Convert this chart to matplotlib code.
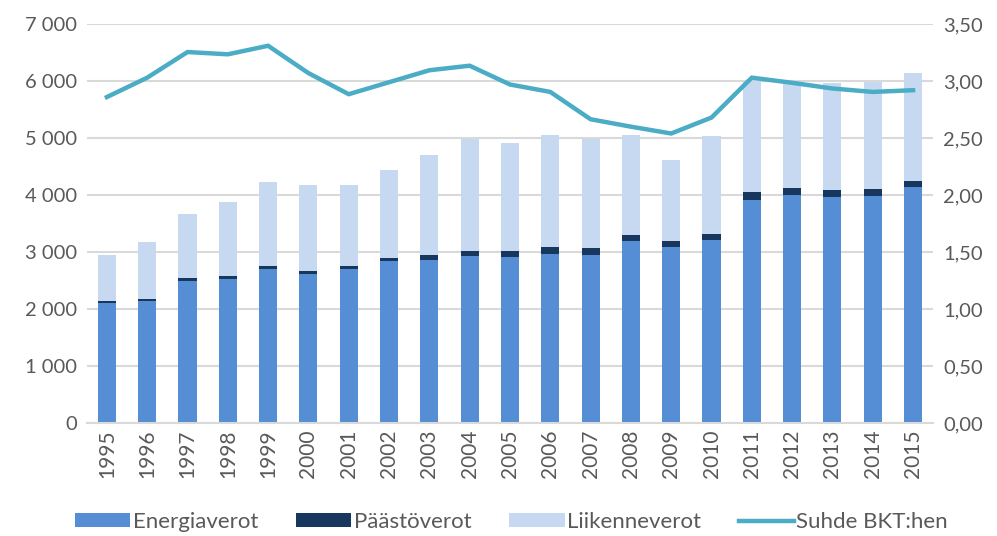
import matplotlib

matplotlib.use("Agg")
import matplotlib.pyplot as plt
import numpy as np
from matplotlib.ticker import FuncFormatter

years = [str(y) for y in range(1995, 2016)]
energiaverot = [2110, 2135, 2495, 2525, 2695, 2615, 2700, 2840, 2860, 2935, 2910,
                2965, 2940, 3190, 3090, 3205, 3910, 3995, 3965, 3980, 4145]
paastoverot = [35, 40, 45, 55, 60, 60, 60, 60, 80, 80, 105,
               120, 125, 105, 95, 110, 140, 130, 120, 120, 105]
kokonais = [2950, 3170, 3660, 3883, 4222, 4181, 4175, 4440, 4702, 4977, 4912,
            5058, 4988, 5058, 4608, 5040, 6005, 5960, 5970, 5988, 6135]
suhde_bkt = [2.86, 3.03, 3.255, 3.235, 3.31, 3.07, 2.885, 2.99, 3.095, 3.135, 2.97,
             2.905, 2.665, 2.60, 2.54, 2.68, 3.03, 2.985, 2.935, 2.905, 2.92]

liikenneverot = [t - e - p for t, e, p in zip(kokonais, energiaverot, paastoverot)]

TEXT = "#595959"
plt.rcParams["font.family"] = ["Lato", "DejaVu Sans"]

fig = plt.figure(figsize=(9.97, 5.36), dpi=100)
ax = fig.add_axes([0.087, 0.211, 0.849, 0.744])
ax2 = ax.twinx()

x = np.arange(len(years))
w = 0.45
ax.bar(x, energiaverot, w, color="#558ED5", label="Energiaverot", zorder=2)
ax.bar(x, paastoverot, w, bottom=energiaverot, color="#17375E", label="Päästöverot", zorder=2)
bottom2 = [e + p for e, p in zip(energiaverot, paastoverot)]
ax.bar(x, liikenneverot, w, bottom=bottom2, color="#C6D9F1", label="Liikenneverot", zorder=2)

ax2.plot(x, suhde_bkt, color="#4BACC6", lw=3.2, solid_joinstyle="miter", label="Suhde BKT:hen")

ax.set_xlim(-0.5, len(years) - 0.5)
ax.set_ylim(0, 7000)
ax.set_yticks(range(0, 7001, 1000))
ax.yaxis.set_major_formatter(FuncFormatter(lambda v, _: f"{int(v):,}".replace(",", " ")))
ax2.set_ylim(0, 3.5)
ax2.set_yticks(np.arange(0, 3.51, 0.5))
ax2.yaxis.set_major_formatter(FuncFormatter(lambda v, _: f"{v:.2f}".replace(".", ",")))

ax.set_xticks(x)
ax.set_xticklabels(years, rotation=90)
ax.grid(axis="y", color="#D9D9D9", lw=1.5, zorder=0)
ax.set_axisbelow(True)

for a in (ax, ax2):
    for s in a.spines.values():
        s.set_visible(False)
    a.tick_params(length=0, labelsize=14.5, colors=TEXT, pad=7)
ax.spines["bottom"].set_visible(True)
ax.spines["bottom"].set_color("#D9D9D9")
ax.spines["bottom"].set_linewidth(1.5)
ax.tick_params(axis="x", labelsize=15, pad=5)

handles = ax.get_legend_handles_labels()[0] + ax2.get_legend_handles_labels()[0]
labels = ax.get_legend_handles_labels()[1] + ax2.get_legend_handles_labels()[1]
fig.legend(handles, labels, loc="lower center", bbox_to_anchor=(0.513, -0.03), ncol=4,
           frameon=False, fontsize=16, labelcolor=TEXT, handlelength=2.5,
           handleheight=0.6, handletextpad=0.1, columnspacing=1.7)

fig.savefig("out.png", dpi=100)
